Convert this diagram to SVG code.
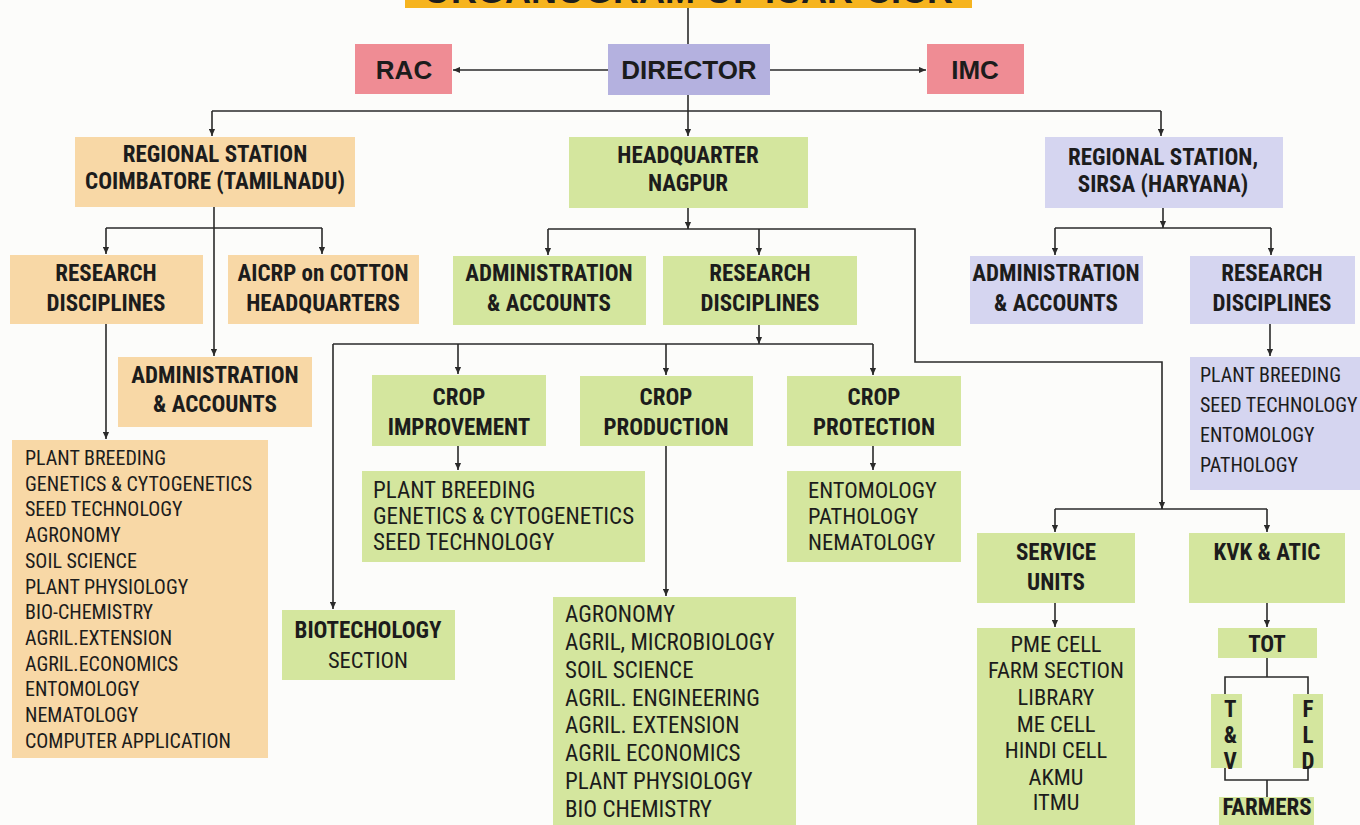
<svg xmlns="http://www.w3.org/2000/svg" width="1360" height="825" viewBox="0 0 1360 825">
<style>
.tan{fill:#F8D8A6}
.grn{fill:#D4E69E}
.lav{fill:#D5D5F0}
.dir{fill:#B4B1DF}
.pink{fill:#EF8C94}
.t{font-family:"Liberation Sans Narrow","Roboto Condensed","DejaVu Sans Condensed","Liberation Sans",sans-serif;fill:#1c1c1c}
.b{font-weight:bold;font-size:23px;text-anchor:middle}
.r{font-weight:normal;font-size:22.5px}
.s{font-size:20px}
.m{font-size:23px}
.c{text-anchor:middle}
.v{font-weight:bold;font-size:23px;writing-mode:vertical-rl;text-orientation:upright;letter-spacing:-1px;text-anchor:start}
.big{font-family:"Liberation Sans",Arial,sans-serif;font-weight:bold;font-size:26px;text-anchor:middle;fill:#1c1c1c}
.ln{stroke:#2a2a2a;stroke-width:1.6;fill:none}
.ar{marker-end:url(#ah)}
</style>
<defs>
<marker id="ah" viewBox="0 0 8 8" refX="8" refY="4" markerWidth="7" markerHeight="7" markerUnits="userSpaceOnUse" orient="auto">
<path d="M0,0.5 L8,4 L0,7.5 z" fill="#2a2a2a"/>
</marker>
</defs>
<rect width="1360" height="825" fill="#FCFCFA"/>

<g id="title">
<rect x="405" y="-20" width="567" height="28" fill="#F6B41F"/>
<text x="688" y="3" class="big" style="font-size:36px">ORGANOGRAM OF ICAR-CICR</text>
</g>

<g id="connectors">
<path class="ln" d="M688,8 V44"/>
<path class="ln ar" d="M608,70 H453"/>
<path class="ln ar" d="M770,70 H926"/>
<path class="ln ar" d="M688,95 V136"/>
<path class="ln" d="M212,111 H1161"/>
<path class="ln ar" d="M212,111 V136"/>
<path class="ln ar" d="M1161,111 V136"/>
<path class="ln ar" d="M214,207 V356"/>
<path class="ln" d="M106,228 H322"/>
<path class="ln ar" d="M106,228 V254"/>
<path class="ln ar" d="M322,228 V254"/>
<path class="ln ar" d="M106,324 V439"/>
<path class="ln ar" d="M688,208 V229"/>
<path class="ln" d="M548,229 H915 V362 H1162 V509"/>
<path class="ln ar" d="M548,229 V255"/>
<path class="ln ar" d="M759,229 V255"/>
<path class="ln ar" d="M759,325 V344"/>
<path class="ln" d="M333,344 H873"/>
<path class="ln ar" d="M333,344 V609"/>
<path class="ln ar" d="M458,344 V374"/>
<path class="ln ar" d="M666,344 V375"/>
<path class="ln ar" d="M873,344 V375"/>
<path class="ln ar" d="M458,446 V470"/>
<path class="ln ar" d="M666,446 V596"/>
<path class="ln ar" d="M873,446 V470"/>
<path class="ln ar" d="M1162,500 V509"/>
<path class="ln" d="M1055,509 H1267"/>
<path class="ln ar" d="M1055,509 V532"/>
<path class="ln ar" d="M1267,509 V532"/>
<path class="ln ar" d="M1055,603 V627"/>
<path class="ln ar" d="M1267,603 V627"/>
<path class="ln" d="M1267,658 V677 M1225,694 V677 H1308 V694"/>
<path class="ln" d="M1225,768 V780 H1308 V768 M1267,780 V797"/>
<path class="ln ar" d="M1163,208 V228"/>
<path class="ln" d="M1055,228 H1271"/>
<path class="ln ar" d="M1055,228 V255"/>
<path class="ln ar" d="M1271,228 V255"/>
<path class="ln ar" d="M1270,324 V356"/>
</g>

<g id="director"><rect class="dir" x="608" y="44" width="162" height="51"/><text class="big" x="689" y="79">DIRECTOR</text></g>
<g id="rac"><rect class="pink" x="355" y="44" width="97" height="50"/><text class="big" x="404" y="79">RAC</text></g>
<g id="imc"><rect class="pink" x="927" y="44" width="97" height="50"/><text class="big" x="975" y="79">IMC</text></g>

<g id="rs-coimbatore"><rect class="tan" x="75" y="137" width="280" height="70"/>
<text class="t b" x="215" y="162">REGIONAL STATION</text><text class="t b" x="215" y="189">COIMBATORE (TAMILNADU)</text></g>
<g id="hq-nagpur"><rect class="grn" x="569" y="137" width="239" height="71"/>
<text class="t b" x="688" y="163">HEADQUARTER</text><text class="t b" x="688" y="191">NAGPUR</text></g>
<g id="rs-sirsa"><rect class="lav" x="1045" y="137" width="238" height="71"/>
<text class="t b" x="1163" y="165">REGIONAL STATION,</text><text class="t b" x="1163" y="192">SIRSA (HARYANA)</text></g>

<g id="cbe-research"><rect class="tan" x="10" y="255" width="193" height="69"/>
<text class="t b" x="106" y="281">RESEARCH</text><text class="t b" x="106" y="311">DISCIPLINES</text></g>
<g id="cbe-aicrp"><rect class="tan" x="228" y="255" width="191" height="69"/>
<text class="t b" x="323" y="281">AICRP on COTTON</text><text class="t b" x="323" y="311">HEADQUARTERS</text></g>
<g id="cbe-admin"><rect class="tan" x="118" y="357" width="194" height="70"/>
<text class="t b" x="215" y="383">ADMINISTRATION</text><text class="t b" x="215" y="412">&amp; ACCOUNTS</text></g>
<g id="cbe-list"><rect class="tan" x="12" y="440" width="256" height="318"/>
<text class="t r s" x="25" y="465">PLANT BREEDING</text>
<text class="t r s" x="25" y="490.7">GENETICS &amp; CYTOGENETICS</text>
<text class="t r s" x="25" y="516.4">SEED TECHNOLOGY</text>
<text class="t r s" x="25" y="542.1">AGRONOMY</text>
<text class="t r s" x="25" y="567.8">SOIL SCIENCE</text>
<text class="t r s" x="25" y="593.5">PLANT PHYSIOLOGY</text>
<text class="t r s" x="25" y="619.2">BIO-CHEMISTRY</text>
<text class="t r s" x="25" y="644.9">AGRIL.EXTENSION</text>
<text class="t r s" x="25" y="670.6">AGRIL.ECONOMICS</text>
<text class="t r s" x="25" y="696.3">ENTOMOLOGY</text>
<text class="t r s" x="25" y="722">NEMATOLOGY</text>
<text class="t r s" x="25" y="747.7">COMPUTER APPLICATION</text>
</g>

<g id="hq-admin"><rect class="grn" x="453" y="256" width="193" height="69"/>
<text class="t b" x="549" y="281">ADMINISTRATION</text><text class="t b" x="549" y="311">&amp; ACCOUNTS</text></g>
<g id="hq-research"><rect class="grn" x="663" y="256" width="194" height="69"/>
<text class="t b" x="760" y="281">RESEARCH</text><text class="t b" x="760" y="311">DISCIPLINES</text></g>

<g id="crop-improvement"><rect class="grn" x="372" y="375" width="174" height="71"/>
<text class="t b" x="459" y="405">CROP</text><text class="t b" x="459" y="435">IMPROVEMENT</text></g>
<g id="crop-production"><rect class="grn" x="580" y="376" width="173" height="70"/>
<text class="t b" x="666" y="405">CROP</text><text class="t b" x="666" y="435">PRODUCTION</text></g>
<g id="crop-protection"><rect class="grn" x="787" y="376" width="174" height="70"/>
<text class="t b" x="874" y="405">CROP</text><text class="t b" x="874" y="435">PROTECTION</text></g>

<g id="improvement-list"><rect class="grn" x="362" y="471" width="283" height="91"/>
<text class="t r m" x="373" y="498">PLANT BREEDING</text>
<text class="t r m" x="373" y="524">GENETICS &amp; CYTOGENETICS</text>
<text class="t r m" x="373" y="550">SEED TECHNOLOGY</text></g>
<g id="protection-list"><rect class="grn" x="787" y="471" width="174" height="91"/>
<text class="t r" x="808" y="498">ENTOMOLOGY</text>
<text class="t r" x="808" y="524">PATHOLOGY</text>
<text class="t r" x="808" y="550">NEMATOLOGY</text></g>
<g id="production-list"><rect class="grn" x="553" y="597" width="243" height="240"/>
<text class="t r m" x="565" y="622">AGRONOMY</text>
<text class="t r m" x="565" y="650">AGRIL, MICROBIOLOGY</text>
<text class="t r m" x="565" y="678">SOIL SCIENCE</text>
<text class="t r m" x="565" y="706">AGRIL. ENGINEERING</text>
<text class="t r m" x="565" y="733">AGRIL. EXTENSION</text>
<text class="t r m" x="565" y="761">AGRIL ECONOMICS</text>
<text class="t r m" x="565" y="789">PLANT PHYSIOLOGY</text>
<text class="t r m" x="565" y="817">BIO CHEMISTRY</text></g>
<g id="biotech"><rect class="grn" x="282" y="610" width="173" height="70"/>
<text class="t b" x="368" y="638">BIOTECHOLOGY</text><text class="t r c" x="368" y="668">SECTION</text></g>

<g id="service-units"><rect class="grn" x="977" y="533" width="158" height="70"/>
<text class="t b" x="1056" y="560">SERVICE</text><text class="t b" x="1056" y="590">UNITS</text></g>
<g id="service-list"><rect class="grn" x="977" y="628" width="158" height="210"/>
<text class="t r c" x="1056" y="652">PME CELL</text>
<text class="t r c" x="1056" y="678">FARM SECTION</text>
<text class="t r c" x="1056" y="705">LIBRARY</text>
<text class="t r c" x="1056" y="732">ME CELL</text>
<text class="t r c" x="1056" y="758">HINDI CELL</text>
<text class="t r c" x="1056" y="785">AKMU</text>
<text class="t r c" x="1056" y="810">ITMU</text></g>
<g id="kvk-atic"><rect class="grn" x="1189" y="533" width="156" height="70"/>
<text class="t b" x="1267" y="560">KVK &amp; ATIC</text></g>
<g id="tot"><rect class="grn" x="1218" y="628" width="99" height="30"/>
<text class="t b" x="1267" y="652">TOT</text></g>
<g id="tv"><rect class="grn" x="1211" y="694" width="31" height="74"/>
<text class="t v" x="1230" y="696">T&amp;V</text></g>
<g id="fld"><rect class="grn" x="1293" y="694" width="30" height="74"/>
<text class="t v" x="1308" y="696">FLD</text></g>
<g id="farmers"><rect class="grn" x="1219" y="797" width="95" height="40"/>
<text class="t b" x="1267" y="815">FARMERS</text></g>

<g id="sirsa-admin"><rect class="lav" x="970" y="256" width="173" height="68"/>
<text class="t b" x="1056" y="281">ADMINISTRATION</text><text class="t b" x="1056" y="311">&amp; ACCOUNTS</text></g>
<g id="sirsa-research"><rect class="lav" x="1190" y="256" width="165" height="68"/>
<text class="t b" x="1272" y="281">RESEARCH</text><text class="t b" x="1272" y="311">DISCIPLINES</text></g>
<g id="sirsa-list"><rect class="lav" x="1190" y="357" width="170" height="133"/>
<text class="t r s" x="1200" y="382">PLANT BREEDING</text>
<text class="t r s" x="1200" y="412">SEED TECHNOLOGY</text>
<text class="t r s" x="1200" y="442">ENTOMOLOGY</text>
<text class="t r s" x="1200" y="472">PATHOLOGY</text></g>
</svg>
